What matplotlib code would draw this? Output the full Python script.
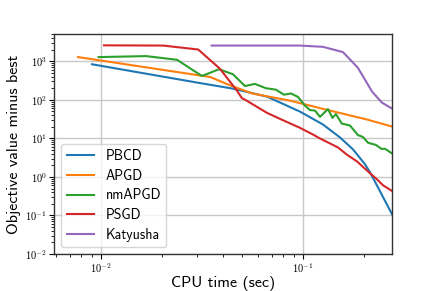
import matplotlib
matplotlib.use("Agg")
import matplotlib.pyplot as plt
from matplotlib.ticker import FuncFormatter, LogLocator, NullFormatter
import numpy as np

plt.rcParams['mathtext.fontset'] = 'cm'
plt.rcParams['font.family'] = ['cmss10', 'DejaVu Sans']
plt.rcParams['axes.unicode_minus'] = False

pbcd_t = [0.00902, 0.0309, 0.0450, 0.0664, 0.0966, 0.1256, 0.1524, 0.177, 0.203, 0.215, 0.276]
pbcd_v = [836, 272, 195, 121, 49.5, 22.9, 10.6, 5.17, 2.12, 1.31, 0.108]

apgd_t = [0.00769, 0.0347, 0.0436, 0.0565, 0.0862, 0.136, 0.2075, 0.276]
apgd_v = [1284, 391, 237, 144.6, 95.3, 52.6, 30.8, 20.3]

nmapgd_t = [0.00972, 0.01671, 0.02378, 0.0316, 0.0384, 0.045, 0.0516, 0.0578, 0.0656, 0.0735,
            0.0805, 0.0872, 0.0945, 0.1023, 0.1083, 0.1147, 0.1214, 0.133, 0.140, 0.1457,
            0.1555, 0.171, 0.187, 0.198, 0.210, 0.2298, 0.2452, 0.2547, 0.276]
nmapgd_v = [1284, 1362, 1093, 415, 621, 461, 228, 259, 200, 183,
            136, 146, 119, 70.8, 54.2, 52.6, 36.2, 57.5, 34.0, 42.7,
            24.3, 21.5, 12.2, 10.9, 7.7, 6.75, 5.32, 5.38, 4.07]

psgd_t = [0.01035, 0.0203, 0.0303, 0.0388, 0.047, 0.0498, 0.0516, 0.0664, 0.0769, 0.0966,
          0.112, 0.1214, 0.149, 0.1644, 0.185, 0.215, 0.2325, 0.249, 0.276]
psgd_v = [2589, 2557, 2018, 640, 176, 111, 101, 45.8, 32.1, 18.8,
          12.6, 9.93, 5.82, 3.84, 2.53, 1.24, 0.867, 0.607, 0.432]

katyusha_t = [0.0353, 0.0966, 0.1256, 0.1578, 0.187, 0.22, 0.246, 0.276]
katyusha_v = [2557, 2557, 2370, 1730, 679, 163, 84.7, 59.3]

labels = ["PBCD", "APGD", "nmAPGD", "PSGD", "Katyusha"]
colors = ["#1f77b4", "#ff7f0e", "#2ca02c", "#d62728", "#9467bd"]

fig = plt.figure(figsize=(4.36, 2.91), dpi=100)
ax = fig.add_axes([54/436, 1-254/291, (392-54)/436, (254-34)/291])

series = [(pbcd_t, pbcd_v), (apgd_t, apgd_v), (nmapgd_t, nmapgd_v), (psgd_t, psgd_v), (katyusha_t, katyusha_v)]
for (t, v), lab, c in zip(series, labels, colors):
    ax.plot(t, v, color=c, lw=1.5, label=lab)

ax.set_xscale('log')
ax.set_yscale('log')
ax.set_xlim(0.00585, 0.276)
ax.set_ylim(1e-2, 5.1e3)

def fmt(val, pos):
    e = int(round(np.log10(val)))
    return r'$10^{%d}$' % e

for axis in (ax.xaxis, ax.yaxis):
    axis.set_major_locator(LogLocator(base=10, numticks=20))
    axis.set_major_formatter(FuncFormatter(fmt))
    axis.set_minor_locator(LogLocator(base=10, subs=np.arange(2, 10), numticks=20))
    axis.set_minor_formatter(NullFormatter())

ax.grid(True, which='major', color='#c8c8c8', lw=1.0)
ax.set_axisbelow(True)
ax.tick_params(labelsize=7.5, direction='out', length=3.5, width=0.8, pad=1.5)
ax.tick_params(which='minor', length=2, width=0.6)
for s in ax.spines.values():
    s.set_color('#333333')
    s.set_linewidth(1.0)
ax.set_xlabel("CPU time (sec)", fontsize=11.5, labelpad=1)
ax.set_ylabel("Objective value minus best", fontsize=11.5, labelpad=3)
ax.legend(loc='lower left', fontsize=10, labelspacing=0.4)

fig.savefig("out.png", dpi=100)
